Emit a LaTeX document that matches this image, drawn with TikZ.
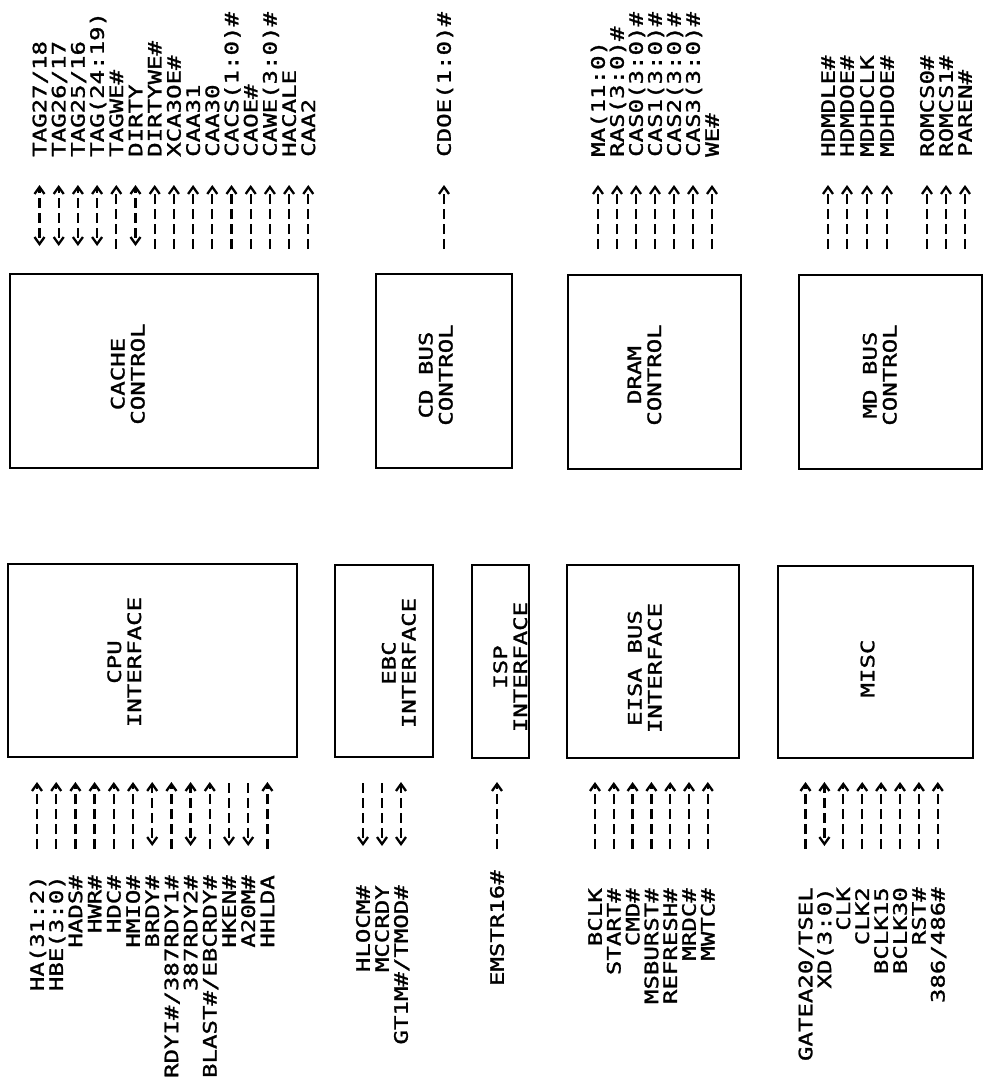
\documentclass[tikz,border=0pt]{standalone}
\usepackage{fontspec}
\usepackage{graphicx}
\newfontfamily\plotfont[FakeBold=1.2]{DejaVu Sans Mono}
\usetikzlibrary{arrows.meta}
\newcommand\sx[1]{\scalebox{1.3}[1]{#1}}
\newcommand\twol[2]{\sx{\begin{tabular}{@{}c@{}}#1\\#2\end{tabular}}}
\tikzset{
  pfont/.style={font=\plotfont\fontsize{18.5}{20}\selectfont},
  blk/.style={draw, line width=1.8pt, inner sep=0pt, outer sep=0pt},
  boxtxt/.style={pfont, rotate=90, inner sep=0pt},
  siglab/.style={pfont, rotate=90, inner sep=0pt, text height=13.5pt, text depth=0pt},
  sig/.style={line width=2.3pt, dash pattern=on 10pt off 5pt},
  arru/.style={-{Straight Barb[length=7pt,width=10pt,sep=3pt]}},
  arrb/.style={{Straight Barb[length=7pt,width=10pt,sep=3pt]}-{Straight Barb[length=7pt,width=10pt,sep=3pt]}, dash phase=10pt},
  arrd/.style={{Straight Barb[length=7pt,width=10pt,sep=3pt]}-, dash phase=10pt},
}
\begin{document}
\begin{tikzpicture}[x=1pt,y=-1pt]
\useasboundingbox (0,0) rectangle (985,1087);

% ---- blocks ----
\node[blk, minimum width=308pt, minimum height=194pt] (cache) at (164,371) {};
\node[blk, minimum width=136pt, minimum height=194pt] (cdbus) at (444,371) {};
\node[blk, minimum width=173pt, minimum height=194pt] (dram) at (654.5,372) {};
\node[blk, minimum width=183pt, minimum height=194pt] (mdbus) at (890.5,372) {};
\node[blk, minimum width=289pt, minimum height=193pt] (cpu) at (152.5,660.5) {};
\node[blk, minimum width=98pt, minimum height=192pt] (ebc) at (384,661) {};
\node[blk, minimum width=57pt, minimum height=193pt] (isp) at (500.5,661.5) {};
\node[blk, minimum width=172pt, minimum height=193pt] (eisa) at (653,661.5) {};
\node[blk, minimum width=195pt, minimum height=192pt] (misc) at (875.5,662) {};

\node[boxtxt] (cacheT) at (130.5,374) {\twol{CACHE}{CONTROL}};
\node[boxtxt] (cdbusT) at (438.5,375) {\twol{CD BUS}{CONTROL}};
\node[boxtxt] (dramT) at (647,375) {\twol{DRAM}{CONTROL}};
\node[boxtxt] (mdbusT) at (882.5,375) {\twol{MD BUS}{CONTROL}};
\node[boxtxt] (cpuT) at (127,662) {\twol{CPU}{INTERFACE}};
\node[boxtxt] (ebcT) at (401.5,663) {\twol{EBC}{INTERFACE}};
\node[boxtxt] (ispT) at (513,667) {\twol{ISP}{INTERFACE}};
\node[boxtxt] (eisaT) at (647.5,668) {\twol{EISA BUS}{INTERFACE}};
\node[siglab] (miscT) at (867.5,668.5) {\sx{MISC}};

% ---- cache control signals ----
\foreach \lab/\k [count=\i from 0] in {{TAG27/18}/b, {TAG26/17}/b, {TAG25/16}/b, {TAG(24:19)}/b, TAGWE\#/u, DIRTY/b, DIRTYWE\#/u, XCA3OE\#/u, CAA31/u, CAA30/u, {CACS(1:0)\#}/u, CAOE\#/u, {CAWE(3:0)\#}/u, HACALE/u, CAA2/u}{
  \pgfmathsetmacro\xx{39.5+19.2*\i}
  \node[siglab, anchor=west] (cs\i) at (\xx,157) {\sx{\lab}};
  \coordinate (csa\i) at (\xx,249);
  \coordinate (csb\i) at (\xx,182);
  \draw[sig, arr\k] (csa\i) -- (csb\i);
}

% ---- CD bus ----
\node[siglab, anchor=west] (cd0) at (444,157) {\sx{CDOE(1:0)\#}};
\coordinate (cda0) at (444,249);
\coordinate (cdb0) at (444,182);
\draw[sig, arru] (cda0) -- (cdb0);

% ---- DRAM ----
\foreach \lab/\k [count=\i from 0] in {{MA(11:0)}/u, {RAS(3:0)\#}/u, {CAS0(3:0)\#}/u, {CAS1(3:0)\#}/u, {CAS2(3:0)\#}/u, {CAS3(3:0)\#}/u, WE\#/u}{
  \pgfmathsetmacro\xx{598+19*\i}
  \node[siglab, anchor=west] (ds\i) at (\xx,157) {\sx{\lab}};
  \coordinate (dsa\i) at (\xx,249);
  \coordinate (dsb\i) at (\xx,182);
  \draw[sig, arr\k] (dsa\i) -- (dsb\i);
}

% ---- MD bus ----
\foreach \lab/\xx [count=\i from 0] in {HDMDLE\#/828, HDMDOE\#/847, MDHDCLK/867, MDHDOE\#/887, ROMCS0\#/927, ROMCS1\#/946, PAREN\#/965}{
  \node[siglab, anchor=west] (ms\i) at (\xx,157) {\sx{\lab}};
  \coordinate (msa\i) at (\xx,249);
  \coordinate (msb\i) at (\xx,182);
  \draw[sig, arru] (msa\i) -- (msb\i);
}

% ---- CPU interface ----
\foreach \lab/\k [count=\i from 0] in {{HA(31:2)}/u, {HBE(3:0)}/u, HADS\#/u, HWR\#/u, HDC\#/u, HMIO\#/u, BRDY\#/b, {RDYI\#/387RDY1\#}/u, 387RDY2\#/b, {BLAST\#/EBCRDY\#}/u, HKEN\#/d, A20M\#/d, HHLDA/u}{
  \pgfmathsetmacro\xx{37+19.2*\i}
  \node[siglab, anchor=east] (ps\i) at (\xx,875) {\sx{\lab}};
  \coordinate (psa\i) at (\xx,849);
  \coordinate (psb\i) at (\xx,779);
  \draw[sig, arr\k] (psa\i) -- (psb\i);
}

% ---- EBC interface ----
\foreach \lab/\k [count=\i from 0] in {HLOCM\#/d, MCCRDY/d, {GT1M\#/TMOD\#}/b}{
  \pgfmathsetmacro\xx{363+19*\i}
  \node[siglab, anchor=east] (es\i) at (\xx,885) {\sx{\lab}};
  \coordinate (esa\i) at (\xx,849);
  \coordinate (esb\i) at (\xx,779);
  \draw[sig, arr\k] (esa\i) -- (esb\i);
}

% ---- ISP interface ----
\node[siglab, anchor=east] (is0) at (497,870) {\sx{EMSTR16\#}};
\coordinate (isa0) at (497,849);
\coordinate (isb0) at (497,779);
\draw[sig, arru] (isa0) -- (isb0);

% ---- EISA bus interface ----
\foreach \lab/\k [count=\i from 0] in {BCLK/u, START\#/u, CMD\#/u, MSBURST\#/u, REFRESH\#/u, MRDC\#/u, MWTC\#/u}{
  \pgfmathsetmacro\xx{595+18.8*\i}
  \node[siglab, anchor=east] (bs\i) at (\xx,888) {\sx{\lab}};
  \coordinate (bsa\i) at (\xx,849);
  \coordinate (bsb\i) at (\xx,779);
  \draw[sig, arr\k] (bsa\i) -- (bsb\i);
}

% ---- MISC ----
\foreach \lab/\k [count=\i from 0] in {{GATEA20/TSEL}/u, {XD(3:0)}/b, CLK/u, CLK2/u, BCLK15/u, BCLK30/u, RST\#/u, {386/486\#}/u}{
  \pgfmathsetmacro\xx{805.5+18.9*\i}
  \node[siglab, anchor=east] (xs\i) at (\xx,887) {\sx{\lab}};
  \coordinate (xsa\i) at (\xx,849);
  \coordinate (xsb\i) at (\xx,779);
  \draw[sig, arr\k] (xsa\i) -- (xsb\i);
}
\end{tikzpicture}
\end{document}
